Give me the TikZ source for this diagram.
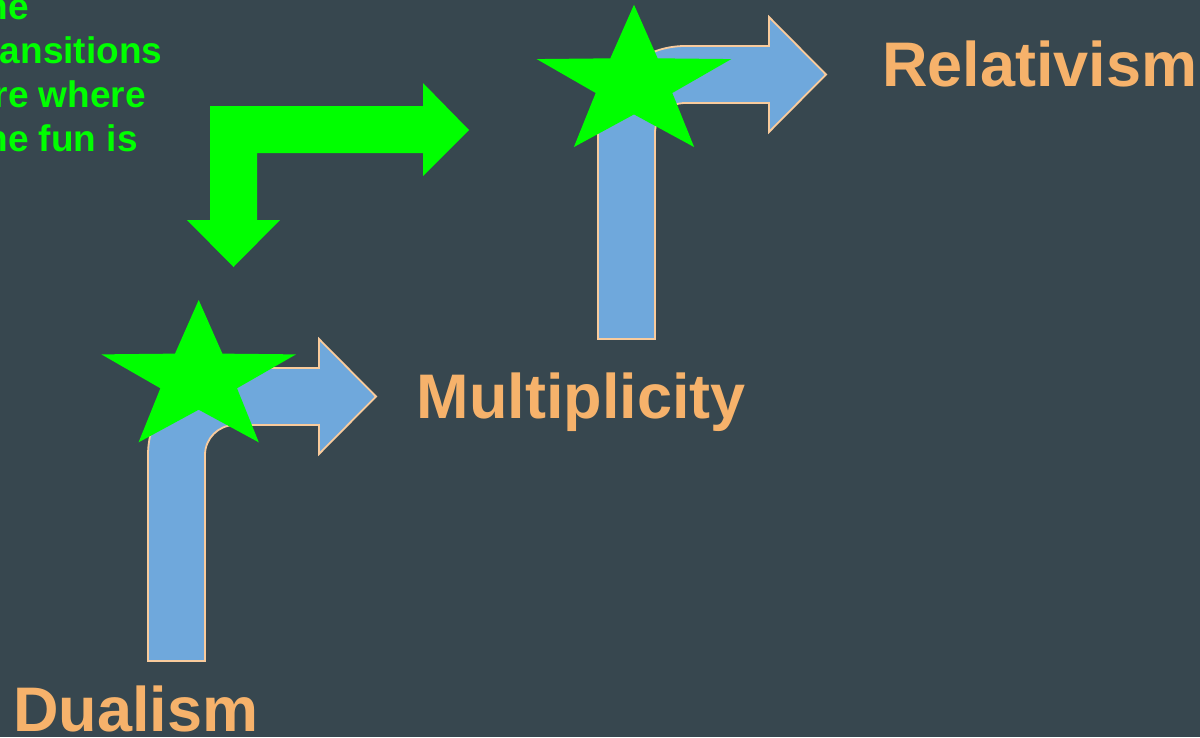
\documentclass[tikz,border=0pt]{standalone}
\usepackage{fontspec}
\setmainfont{Liberation Sans}
\definecolor{bgSlate}{HTML}{37474F}
\definecolor{arrowBlue}{HTML}{6FA8DC}
\definecolor{arrowEdge}{HTML}{F9CB9C}
\definecolor{labelOrange}{HTML}{F6B26B}
\definecolor{starGreen}{HTML}{00FF00}

\begin{document}
\begin{tikzpicture}
[x=1pt,y=-1pt,
  bendDecorate/.style={fill=arrowBlue,draw=arrowEdge,line width=1.8pt,line join=miter},%
  starDecorate/.style={fill=starGreen},%
  labelDecorate/.style={inner sep=0pt,anchor=base west,text=labelOrange,
    font=\bfseries\fontsize{63}{63}\selectfont}]
\useasboundingbox (0,0) rectangle (1200,737);
\fill[bgSlate] (0,0) rectangle (1200,737);
%% bent-up arrows
\foreach \ox/\oy in {148/661, 598/339}
{
  \draw[bendDecorate,shift={(\ox,\oy)}]
    (0,0) -- (0,-206) arc (180:270:87) -- (171,-293) -- (171,-322)
    -- (228,-264.5) -- (171,-207) -- (171,-236) -- (87,-236)
    arc (270:180:30) -- (57,0) -- cycle;
}
%% stars
\foreach \cx/\cy in {198.7/378.7, 634/83.4}
{
  \fill[starDecorate,shift={(\cx,\cy)},xscale=1.3]
    (270:78.7) \foreach \k in {0,...,4} {-- (306+72*\k:31) -- (342+72*\k:78.7)} -- cycle;
}
%% green turn arrow
\fill[starGreen] (210,106) -- (423,106) -- (423,83) -- (469,130) -- (423,176)
  -- (423,153) -- (257,153) -- (257,220) -- (280,220) -- (233.5,267)
  -- (187,220) -- (210,220) -- cycle;
%% labels
\node (dualism) at (13,731.7) [labelDecorate] {Dualism};
\node (multiplicity) at (416.5,418.3) [labelDecorate] {Multiplicity};
\node (relativism) at (882,86.7) [labelDecorate] {Relativism};
\node (funNote) at (-27,151.7) [inner sep=0pt,anchor=base west,align=left,text=starGreen,
  font=\bfseries\fontsize{37}{44}\selectfont]
  {the\\transitions\\are where\\the fun is};
\end{tikzpicture}
\end{document}
